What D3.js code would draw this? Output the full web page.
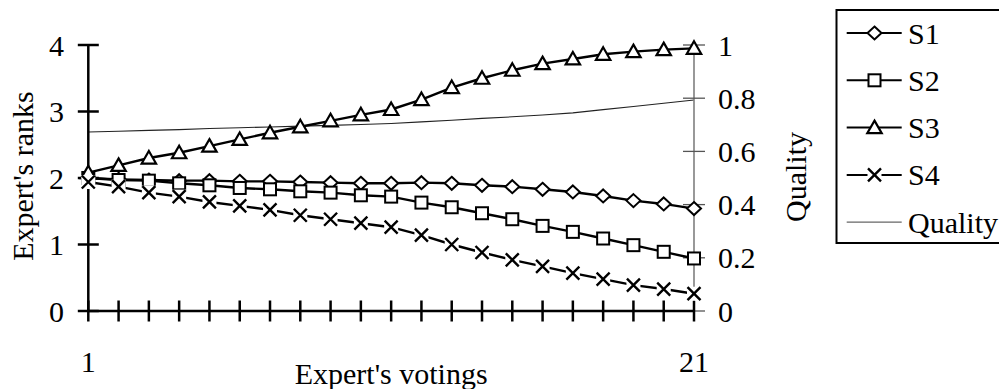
<!DOCTYPE html>
<html><head><meta charset="utf-8">
<script src="https://cdn.jsdelivr.net/npm/d3@7"></script>
<style>
html,body{margin:0;padding:0;background:#fff;}
svg{display:block;}
text{font-family:"Liberation Serif","Times New Roman",serif;fill:#000;}
</style></head>
<body>
<svg id="c" width="999" height="389"></svg>
<script>
const votings = d3.range(1, 22);
const s1 = [2.00,1.98,1.97,1.96,1.96,1.95,1.95,1.94,1.93,1.92,1.92,1.93,1.92,1.89,1.87,1.83,1.79,1.73,1.66,1.61,1.54];
const s2 = [2.00,1.97,1.96,1.92,1.89,1.85,1.83,1.80,1.78,1.74,1.72,1.63,1.56,1.47,1.38,1.28,1.19,1.09,0.99,0.89,0.79];
const s3 = [2.08,2.19,2.30,2.38,2.48,2.58,2.68,2.77,2.86,2.95,3.03,3.18,3.36,3.50,3.62,3.72,3.79,3.86,3.90,3.93,3.95];
const s4 = [1.94,1.87,1.78,1.72,1.64,1.58,1.52,1.44,1.38,1.32,1.26,1.14,1.00,0.88,0.77,0.67,0.57,0.48,0.39,0.33,0.26];
const quality = [0.673,0.676,0.679,0.682,0.686,0.689,0.692,0.695,0.698,0.701,0.705,0.711,0.717,0.724,0.730,0.737,0.745,0.757,0.769,0.781,0.793];
const leftTicks = [0,1,2,3,4];
const rightTicks = [0,0.2,0.4,0.6,0.8,1];
const xLabels = [1,21];
const seriesNames = ["S1","S2","S3","S4"];
const seriesMarkers = ["diamond","square","triangle","cross"];

const svg = d3.select("#c");
const FS = 30;
const x = d3.scaleLinear().domain([1,21]).range([88.3,694]);
const yL = d3.scaleLinear().domain([0,4]).range([311,45]);
const yR = d3.scaleLinear().domain([0,1]).range([311,45]);

function marker(g, type, cx, cy){
  if(type==="diamond"){
    g.append("path").attr("d",`M${cx},${cy-6.5}L${cx+7},${cy}L${cx},${cy+6.5}L${cx-7},${cy}Z`)
      .attr("fill","#fff").attr("stroke","#000").attr("stroke-width",2);
  } else if(type==="square"){
    g.append("rect").attr("x",cx-6).attr("y",cy-6).attr("width",12).attr("height",12)
      .attr("fill","#fff").attr("stroke","#000").attr("stroke-width",2);
  } else if(type==="triangle"){
    g.append("path").attr("d",`M${cx},${cy-7}L${cx+7.2},${cy+5.5}L${cx-7.2},${cy+5.5}Z`)
      .attr("fill","#fff").attr("stroke","#000").attr("stroke-width",2.2).attr("stroke-linejoin","miter");
  } else {
    g.append("rect").attr("x",cx-7).attr("y",cy-7).attr("width",14).attr("height",14).attr("fill","#fff");
    g.append("path").attr("d",`M${cx-6.5},${cy-6.5}L${cx+6.5},${cy+6.5}M${cx+6.5},${cy-6.5}L${cx-6.5},${cy+6.5}`)
      .attr("stroke","#000").attr("stroke-width",2.4);
  }
}

// quality line (right axis)
svg.append("path").datum(quality)
  .attr("d", d3.line().x((d,i)=>x(votings[i])).y(d=>yR(d)))
  .attr("fill","none").attr("stroke","#222").attr("stroke-width",1.1);

// right axis (gray)
const rA = svg.append("g");
rA.append("line").attr("x1",x(21)).attr("x2",x(21)).attr("y1",yR(1)).attr("y2",yR(0))
  .attr("stroke","#7f7f7f").attr("stroke-width",1.6);
rA.selectAll("line.t").data(rightTicks).enter().append("line").attr("class","t")
  .attr("x1",x(21)-11).attr("x2",x(21)+11).attr("y1",d=>yR(d)).attr("y2",d=>yR(d))
  .attr("stroke","#555").attr("stroke-width",1.3);
rA.selectAll("text").data(rightTicks).enter().append("text")
  .attr("x",718).attr("y",d=>yR(d)).attr("dy","0.35em").attr("font-size",FS)
  .text(d=>d3.format("~g")(d));

// series lines
const all = [s1,s2,s3,s4];
all.forEach((s)=>{
  svg.append("path").datum(s)
    .attr("d", d3.line().x((d,i)=>x(votings[i])).y(d=>yL(d)))
    .attr("fill","none").attr("stroke","#000").attr("stroke-width",2.4);
});

// left axis
const lA = svg.append("g");
lA.append("line").attr("x1",x(1)).attr("x2",x(1)).attr("y1",yL(4)).attr("y2",yL(0))
  .attr("stroke","#000").attr("stroke-width",2.5);
lA.selectAll("line.t").data(leftTicks).enter().append("line").attr("class","t")
  .attr("x1",x(1)-10.5).attr("x2",x(1)+10.5).attr("y1",d=>yL(d)).attr("y2",d=>yL(d))
  .attr("stroke","#000").attr("stroke-width",2.5);
lA.selectAll("text").data(leftTicks).enter().append("text")
  .attr("x",64).attr("y",d=>yL(d)).attr("dy","0.35em").attr("text-anchor","end").attr("font-size",FS)
  .text(d=>d);

// x axis
const xA = svg.append("g");
xA.append("line").attr("x1",x(1)).attr("x2",x(21)).attr("y1",yL(0)).attr("y2",yL(0))
  .attr("stroke","#000").attr("stroke-width",2.5);
xA.selectAll("line.t").data(votings).enter().append("line").attr("class","t")
  .attr("x1",d=>x(d)).attr("x2",d=>x(d)).attr("y1",yL(0)-10.5).attr("y2",yL(0)+10.5)
  .attr("stroke","#000").attr("stroke-width",2.5);
xA.selectAll("text").data(xLabels).enter().append("text")
  .attr("x",d=>x(d)).attr("y",361).attr("dy","0.35em").attr("text-anchor","middle").attr("font-size",FS)
  .text(d=>d);

// markers
all.forEach((s,k)=>{
  const g = svg.append("g");
  s.forEach((d,i)=>marker(g, seriesMarkers[k], x(votings[i]), yL(d)));
});

// titles
svg.append("text").attr("transform","translate(22,176) rotate(-90)").attr("dy","0.35em")
  .attr("text-anchor","middle").attr("font-size",FS).text("Expert's ranks");
svg.append("text").attr("transform","translate(795,177) rotate(-90)").attr("dy","0.35em")
  .attr("text-anchor","middle").attr("font-size",FS).text("Quality");
svg.append("text").attr("x",(x(1)+x(21))/2).attr("y",373).attr("dy","0.35em")
  .attr("text-anchor","middle").attr("font-size",FS).text("Expert's votings");

// legend
const lg = svg.append("g");
lg.append("rect").attr("x",836.5).attr("y",10).attr("width",200).attr("height",233)
  .attr("fill","#fff").attr("stroke","#000").attr("stroke-width",2);
const legY = [33,80.3,127.6,174.9,222.2];
seriesNames.forEach((n,k)=>{
  lg.append("line").attr("x1",846.7).attr("x2",901.7).attr("y1",legY[k]).attr("y2",legY[k])
    .attr("stroke","#000").attr("stroke-width",2);
  marker(lg, seriesMarkers[k], 874.5, legY[k]);
  lg.append("text").attr("x",908).attr("y",legY[k]).attr("dy","0.35em").attr("font-size",FS).text(n);
});
lg.append("line").attr("x1",846.7).attr("x2",901.7).attr("y1",legY[4]).attr("y2",legY[4])
  .attr("stroke","#666").attr("stroke-width",1.2);
lg.append("text").attr("x",908).attr("y",legY[4]).attr("dy","0.35em").attr("font-size",FS).text("Quality");
</script>
</body></html>
